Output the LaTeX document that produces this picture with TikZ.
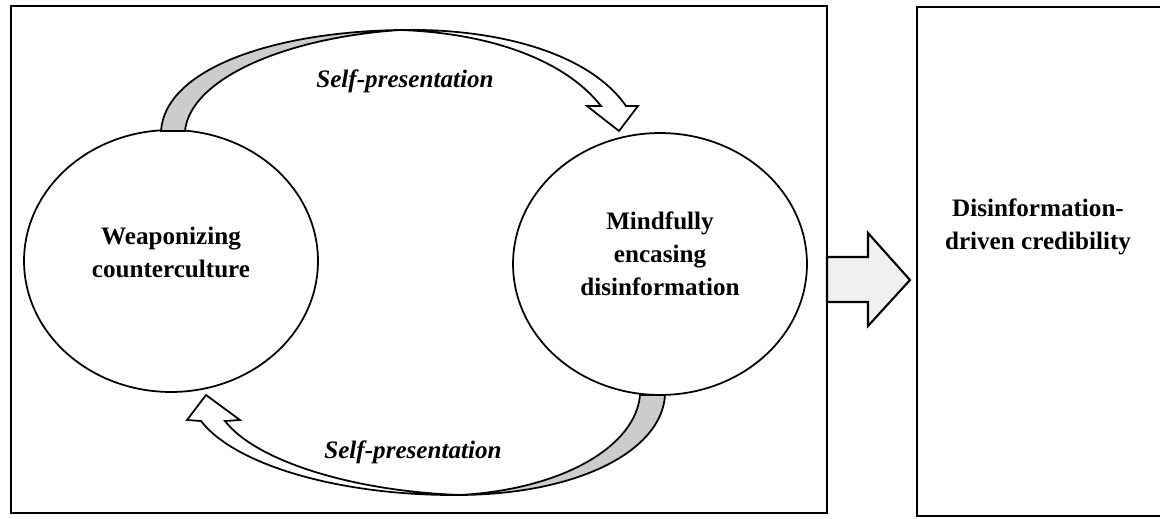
\documentclass[tikz,border=0pt]{standalone}
\usepackage{fontspec}
\setmainfont{Liberation Serif}
\usetikzlibrary{shapes.geometric}

\definecolor{bandgray}{HTML}{CCCCCC}
\definecolor{arrowfill}{HTML}{F0F0F0}

\tikzset{
  frame/.style={draw, line width=1.2pt},
  stage/.style={draw, ellipse, line width=1pt, minimum width=5.88cm, minimum height=5.24cm},
  stagetext/.style={font=\fontsize{14.3}{18.8}\selectfont\bfseries, align=center},
  looplabel/.style={font=\fontsize{14.3}{18.8}\selectfont\bfseries\itshape},
  band/.style={draw, line width=1pt, line join=miter},
}

\begin{document}
\begin{tikzpicture}[x=0.02cm, y=-0.02cm]
  \useasboundingbox (0,0) rectangle (1160,518);
  \clip (0,0) rectangle (1160,518);

  % the two boxes
  \draw[frame] (11,6) rectangle (827,513);
  \draw[frame] (917,7) rectangle (1190,516);

  % stages
  \node[stage] (weap) at (171,261) {};
  \node[stage] (mind) at (660,264) {};
  \node[stagetext] (weaptext) at (171,252) {Weaponizing\\counterculture};
  \node[stagetext] (mindtext) at (660,254) {Mindfully\\encasing\\disinformation};
  \node[stagetext] (cred) at (1038,227) {Disinformation-\\driven credibility};

  % upper loop arrow
  \filldraw[band, fill=white] (400,30) .. controls (500,28) and (590,54) .. (626,106)
    -- (638,106) -- (619,131) -- (587,106) -- (601,106)
    .. controls (565,60) and (490,33) .. (400,30) -- cycle;
  \filldraw[band, fill=bandgray] (161,131) .. controls (165,70) and (270,32) .. (400,30)
    .. controls (282,38) and (190,80) .. (185,131) -- cycle;
  \node[looplabel] (toplabel) at (405,81) {Self-presentation};

  % lower loop arrow
  \filldraw[band, fill=white] (460,495) .. controls (340,496) and (235,465) .. (201,421)
    -- (187,420) -- (206,395) -- (240,420) -- (225,421)
    .. controls (255,460) and (350,491) .. (460,495) -- cycle;
  \filldraw[band, fill=bandgray] (665,395) .. controls (662,450) and (580,494) .. (460,495)
    .. controls (565,489) and (636,445) .. (640,395) -- cycle;
  \node[looplabel] (botlabel) at (413,452) {Self-presentation};

  % block arrow into the right box
  \filldraw[frame, fill=arrowfill] (827,257) -- (868,257) -- (868,233) -- (910,280)
    -- (868,326) -- (868,302) -- (827,302) -- cycle;
\end{tikzpicture}
\end{document}
